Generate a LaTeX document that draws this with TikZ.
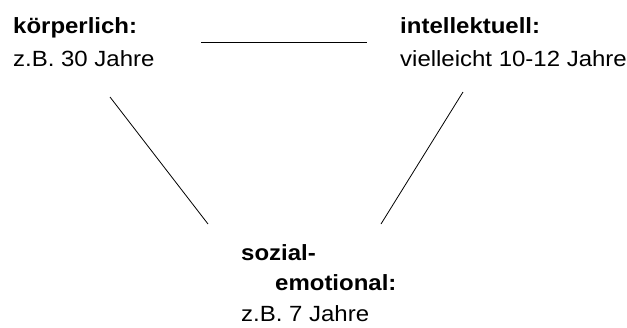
\documentclass[tikz,border=0pt]{standalone}
\usepackage{fontspec}
\setmainfont{Liberation Sans}[FakeStretch=1.09]
\begin{document}
\begin{tikzpicture}[x=1pt,y=-1pt,
  lbl/.style={anchor=base west,inner sep=0pt,font=\fontsize{22}{26}\selectfont},
  hdr/.style={lbl,font=\fontsize{22}{26}\selectfont\bfseries},
  conn/.style={draw=black,line width=0.8pt}]
\useasboundingbox (0,0) rectangle (627,327);
\node[hdr] (k1) at (13,33) {körperlich:};
\node[lbl] (k2) at (13,66.7) {z.B. 30 Jahre};
\node[hdr] (i1) at (400,33) {intellektuell:};
\node[lbl] (i2) at (400,66.7) {vielleicht 10-12 Jahre};
\node[hdr] (s1) at (241,260) {sozial-};
\node[hdr] (s2) at (275,290) {emotional:};
\node[lbl] (s3) at (241,321.5) {z.B. 7 Jahre};
\coordinate (h1) at (201,42);
\coordinate (h2) at (367,42);
\coordinate (l1) at (110,97);
\coordinate (l2) at (208,224);
\coordinate (r1) at (463,92);
\coordinate (r2) at (381,224);
\draw[conn] (h1) -- (h2);
\draw[conn] (l1) -- (l2);
\draw[conn] (r1) -- (r2);
\end{tikzpicture}
\end{document}
